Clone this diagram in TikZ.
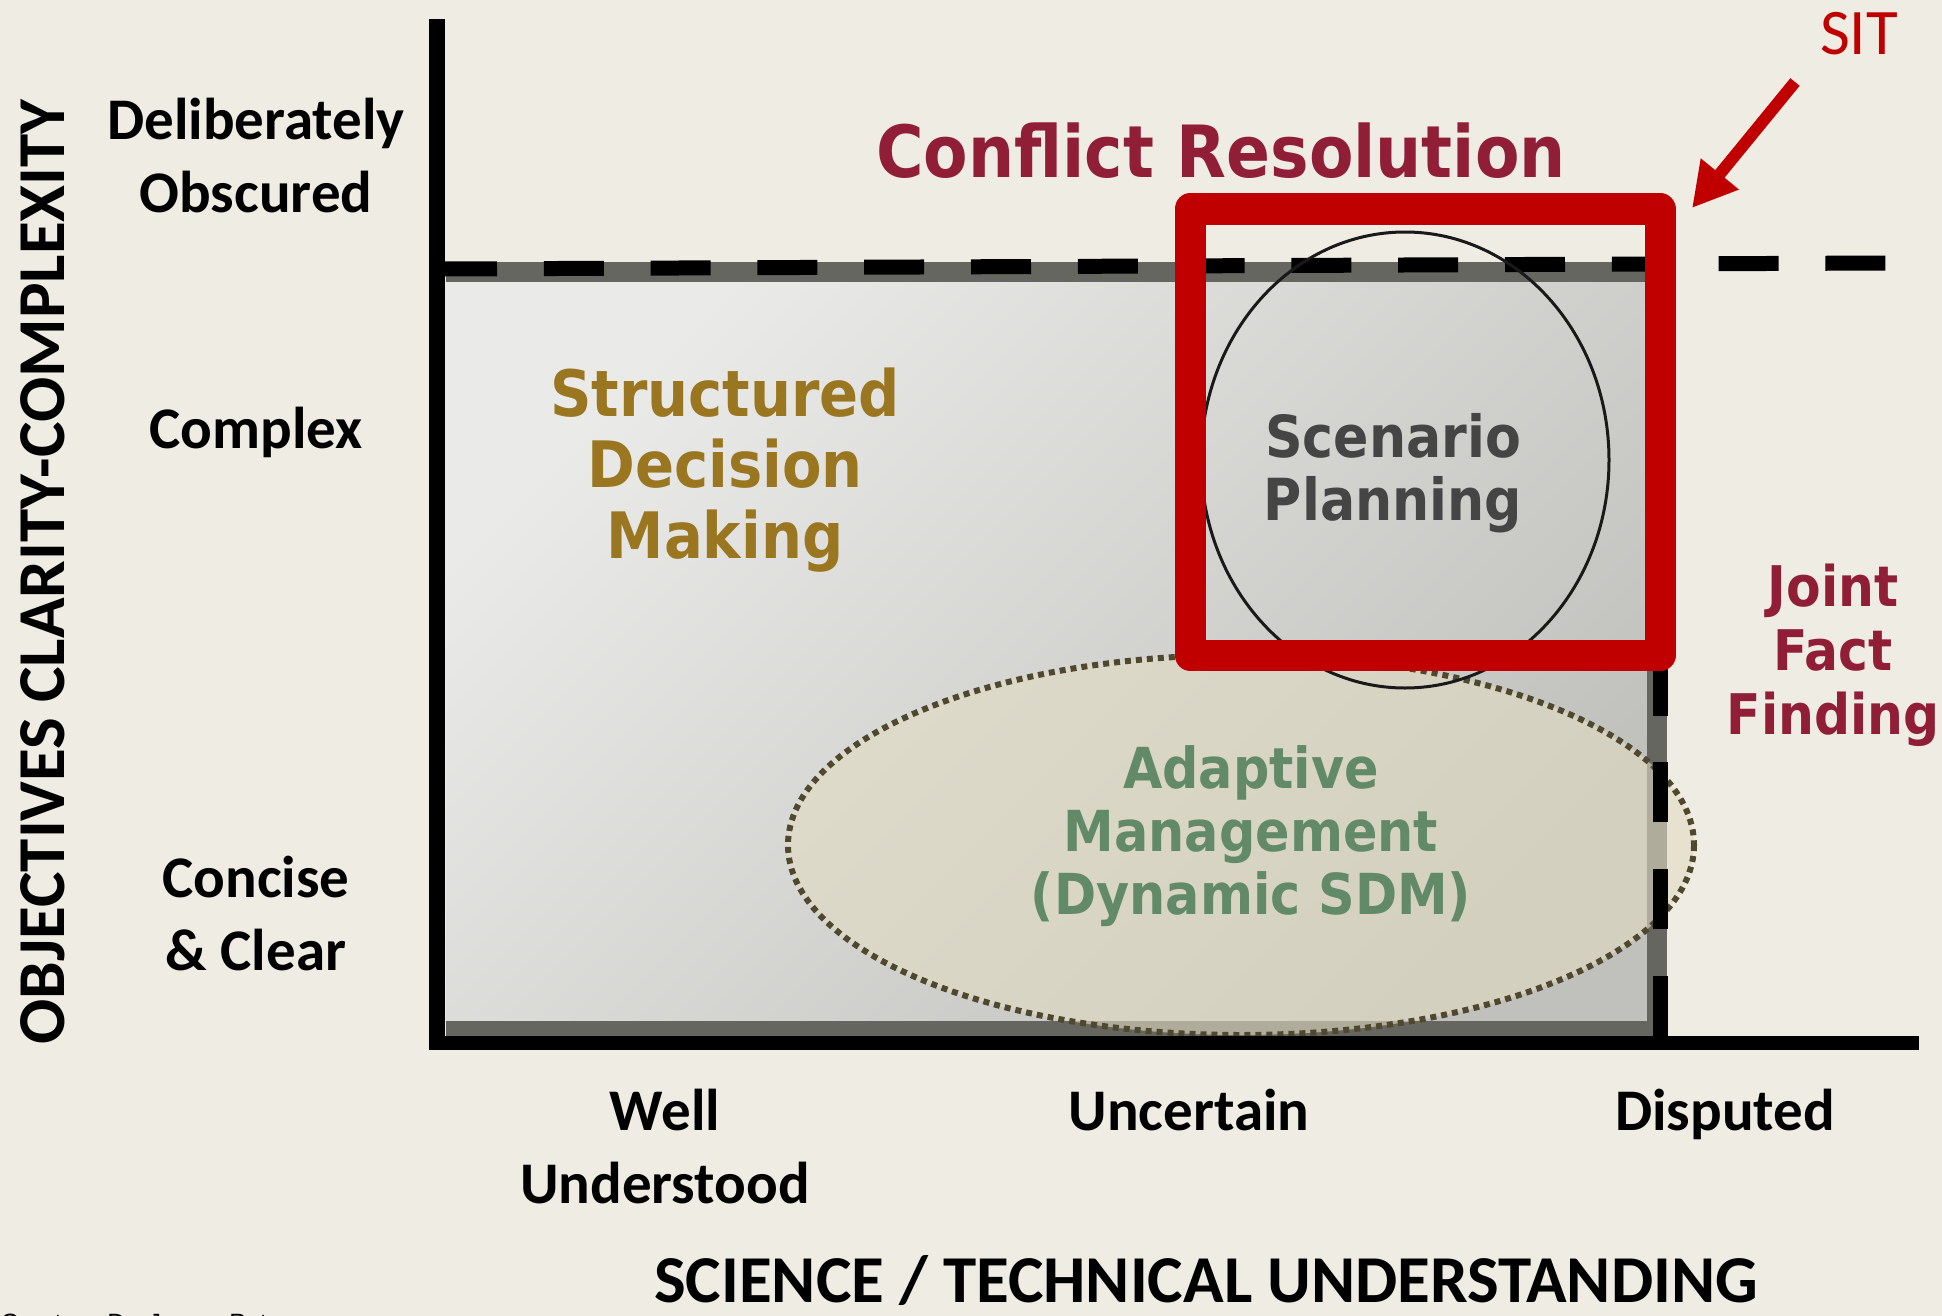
\documentclass[tikz,border=0pt]{standalone}
\usepackage{fontspec}
\setmainfont{Carlito}
\newfontfamily\heavy{DejaVu Sans}[FakeStretch=0.9]
\newfontfamily\arialfont{Liberation Sans}
\usetikzlibrary{arrows.meta}
\definecolor{bg}{RGB}{239,236,227}
\definecolor{rimgray}{RGB}{102,102,96}
\definecolor{lightfill}{RGB}{234,234,232}
\definecolor{darkfill}{RGB}{192,192,189}
\definecolor{boxred}{RGB}{192,0,0}
\definecolor{maroon}{RGB}{145,30,55}
\definecolor{gold}{RGB}{155,118,32}
\definecolor{sage}{RGB}{98,138,104}
\definecolor{slate}{RGB}{69,69,69}
\definecolor{olive}{RGB}{80,72,45}
\definecolor{beige}{RGB}{225,220,195}

\begin{document}
\begin{tikzpicture}[x=1pt, y=-1pt,
	axlbl/.style={font=\fontsize{59}{73}\selectfont\bfseries, align=center, anchor=base},
	zone/.style={align=center, anchor=base},
	dashline/.style={line width=15pt, dash pattern=on 60pt off 46.8pt},
	]
	\useasboundingbox[fill=bg] (0,0) rectangle (1942,1316);
	
	\shade[top color=lightfill, bottom color=darkfill, shading angle=45] (446,272) rectangle (1657,1031);
	\draw[rimgray, line width=20pt] (446,272) -- (1657,272) -- (1657,1031) -- (446,1031);
	
	\fill[beige, fill opacity=0.6] (1241,845) ellipse [x radius=453, y radius=190];
	\draw[olive, line width=6pt, dash pattern=on 6pt off 5pt] (1241,845) ellipse [x radius=453, y radius=190];
	
	\draw[dashline] (437,269) -- (1887,263);
	\draw[dashline] (1660,1036) -- (1660,270);
	
	\draw[black!90, line width=3pt] (1405,460) ellipse [x radius=204, y radius=228];
	\draw[boxred, line width=31pt, line join=round] (1190,209) rectangle (1660,655);
	
	\draw[line width=16pt] (437,19) -- (437,1050);
	\draw[line width=14pt] (429,1043) -- (1919,1043);
	
	\node[axlbl] (obsc) at (256,212) {Deliberately\\Obscured};
	\node[axlbl] (cplx) at (256,448) {Complex};
	\node[axlbl] (clear) at (256,970) {Concise\\\& Clear};
	\node[axlbl] (well) at (665,1203) {Well\\Understood};
	\node[axlbl] (unc) at (1189,1130) {Uncertain};
	\node[axlbl] (disp) at (1725,1130) {Disputed};
	\node[font=\fontsize{67}{80}\selectfont\bfseries, anchor=base] (xlbl) at (1206,1302) {SCIENCE / TECHNICAL UNDERSTANDING};
	\node[font=\fontsize{67}{80}\selectfont\bfseries, rotate=90, anchor=base] (ylbl) at (64,572) {OBJECTIVES CLARITY-COMPLEXITY};
	
	\node[boxred, font=\fontsize{65}{78}\selectfont, anchor=base] (sit) at (1859,55) {SIT};
	\node[maroon, font=\heavy\bfseries\fontsize{72}{80}\selectfont, anchor=base] (conf) at (1221,178) {Conflict Resolution};
	\node[zone, gold, font=\heavy\bfseries\fontsize{64}{71}\selectfont] (sdm) at (725,558) {Structured\\Decision\\Making};
	\node[zone, slate, font=\heavy\bfseries\fontsize{58}{63}\selectfont] (scen) at (1393,520) {Scenario\\Planning};
	\node[zone, maroon, font=\heavy\bfseries\fontsize{56}{64}\selectfont] (jff) at (1833,734) {Joint\\Fact\\Finding};
	\node[zone, sage, font=\heavy\bfseries\fontsize{56.5}{63}\selectfont] (adapt) at (1251,914) {Adaptive\\Management\\(Dynamic SDM)};
	\node[font=\arialfont\fontsize{25}{30}\selectfont, anchor=base west] (court) at (-3,1331) {Courtesy Dr. James Peterson};
	
	\coordinate (sittail) at (1795,82);
	\coordinate (sittip) at (1692,208);
	\draw[boxred, line width=12pt, -{Triangle[length=44pt, width=46pt]}] (sittail) -- (sittip);
\end{tikzpicture}
\end{document}
